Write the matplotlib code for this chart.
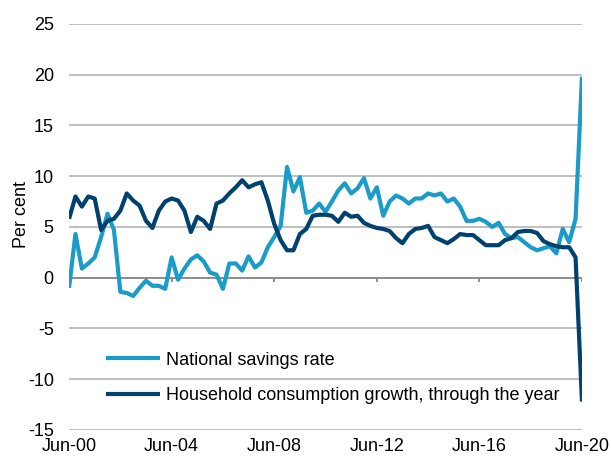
#!/usr/bin/env python3

import numpy as np
import matplotlib.pyplot as plt


# quarterly, Jun-00 .. Jun-20
SAVINGS_RATE = [
    -1.0, 4.3, 0.9, 1.4, 2.0, 4.0, 6.3, 4.7, -1.4, -1.5,
    -1.8, -1.0, -0.3, -0.8, -0.8, -1.1, 2.0, -0.2, 0.9, 1.8,
    2.2, 1.6, 0.5, 0.3, -1.1, 1.4, 1.4, 0.7, 2.1, 1.0,
    1.5, 3.0, 4.0, 5.1, 10.9, 8.5, 9.9, 6.4, 6.6, 7.3,
    6.5, 7.5, 8.6, 9.3, 8.3, 8.8, 9.8, 7.8, 8.9, 6.1,
    7.5, 8.1, 7.8, 7.3, 7.8, 7.8, 8.3, 8.1, 8.3, 7.5,
    7.8, 7.0, 5.6, 5.6, 5.8, 5.5, 5.0, 5.4, 4.3, 3.9,
    4.0, 3.5, 3.0, 2.7, 2.9, 3.1, 2.4, 4.8, 3.5, 5.8,
    19.8,
]

CONSUMPTION_GROWTH = [
    5.8, 8.0, 7.0, 8.0, 7.8, 4.7, 5.6, 5.8, 6.6, 8.3,
    7.6, 7.1, 5.6, 4.9, 6.6, 7.5, 7.8, 7.6, 6.6, 4.5,
    6.0, 5.6, 4.8, 7.3, 7.6, 8.3, 8.9, 9.6, 8.9, 9.2,
    9.4, 7.6, 5.3, 3.7, 2.7, 2.7, 4.3, 4.8, 6.1, 6.2,
    6.2, 6.1, 5.5, 6.4, 6.0, 6.1, 5.4, 5.1, 4.9, 4.8,
    4.6, 3.9, 3.4, 4.3, 4.8, 4.9, 5.1, 4.0, 3.7, 3.4,
    3.8, 4.3, 4.2, 4.2, 3.7, 3.2, 3.2, 3.2, 3.7, 3.9,
    4.5, 4.6, 4.6, 4.4, 3.6, 3.3, 3.1, 3.0, 3.0, 2.0,
    -12.2,
]

TICK_LABELS = ["Jun-00", "Jun-04", "Jun-08", "Jun-12", "Jun-16", "Jun-20"]
Y_TICKS = [-15, -10, -5, 0, 5, 10, 15, 20, 25]

LIGHT_BLUE = "#1A9BC8"
NAVY = "#00416E"


def main():
    plt.rcParams["font.family"] = ["Liberation Sans", "DejaVu Sans"]
    plt.rcParams["font.size"] = 13
    plt.rcParams["axes.unicode_minus"] = False

    fig = plt.figure(figsize=(6.11, 4.59), dpi=100)
    ax = fig.add_axes([0.113, 0.0632, 0.8395, 0.8848])

    quarters = np.arange(len(SAVINGS_RATE))
    tick_pos = quarters[::16]

    for y in Y_TICKS:
        if y == 0:
            continue
        ax.axhline(y, color="#BFBFBF", linewidth=1.4, zorder=1)
    ax.axhline(0, color="#8C8C8C", linewidth=1.4, zorder=1)
    ax.vlines(tick_pos, -0.45, 0, color="#8C8C8C", linewidth=1.4, zorder=1)

    ax.plot(quarters, SAVINGS_RATE, color=LIGHT_BLUE, linewidth=3.0,
            solid_joinstyle="round", solid_capstyle="butt",
            label="National savings rate", zorder=3)
    ax.plot(quarters, CONSUMPTION_GROWTH, color=NAVY, linewidth=3.0,
            solid_joinstyle="round", solid_capstyle="butt",
            label="Household consumption growth, through the year", zorder=4)

    ax.set_xlim(quarters[0], quarters[-1])
    ax.set_ylim(-15, 25)
    ax.set_yticks(Y_TICKS)
    ax.set_xticks(tick_pos)
    ax.set_xticklabels(TICK_LABELS)
    ax.tick_params(axis="both", length=0, colors="black")
    ax.tick_params(axis="y", pad=11)
    ax.tick_params(axis="x", pad=6)

    for spine in ax.spines.values():
        spine.set_visible(False)

    ax.set_ylabel("Per cent")
    ax.yaxis.set_label_coords(-0.077, 0.53)

    ax.legend(
        loc="center left",
        bbox_to_anchor=(0.0546, 0.128),
        frameon=False,
        borderpad=0,
        handlelength=3.0,
        handletextpad=0.3,
        labelspacing=1.05,
    )

    fig.savefig("out.png", dpi=100)
    plt.close(fig)


if __name__ == "__main__":
    main()
